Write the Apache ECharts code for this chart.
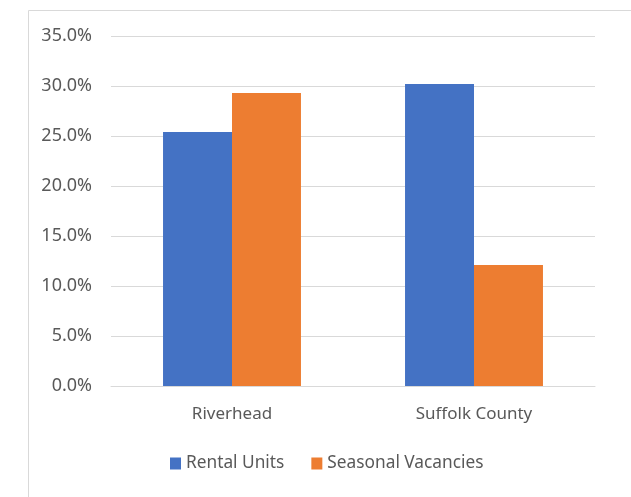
<!DOCTYPE html>
<html><head><meta charset="utf-8">
<script src="https://cdn.jsdelivr.net/npm/echarts@6/dist/echarts.min.js"></script>
<style>html,body{margin:0;padding:0;background:#fff}#c{width:631px;height:497px}</style>
</head><body><div id="c"></div>
<script>
const categories = ["Riverhead", "Suffolk County"];
const rentalUnits = [25.4, 30.2];
const seasonalVacancies = [29.3, 12.1];
const seriesNames = ["Rental Units", "Seasonal Vacancies"];

const chart = echarts.init(document.getElementById('c'));
const font = 'Noto Sans';
chart.setOption({
  animation: false,
  graphic: [{type:'rect', shape:{x:28.5,y:10.5,width:610,height:500}, style:{fill:'none',stroke:'#d9d9d9',lineWidth:1}, silent:true}],
  grid: {left: 111, right: 36, top: 36, bottom: 111, containLabel: false},
  legend: {
    data: seriesNames, bottom: 20, left: 165, itemWidth: 11, itemHeight: 12, itemGap: 27,
    icon: 'rect',
    textStyle: {fontFamily: font, fontSize: 17.3, color: '#595959'}
  },
  xAxis: {
    type: 'category', data: categories,
    axisLine: {lineStyle: {color: '#d9d9d9'}}, axisTick: {show: false},
    axisLabel: {fontFamily: font, fontSize: 17, color: '#595959', margin: 20}
  },
  yAxis: {
    type: 'value', min: 0, max: 35, interval: 5,
    axisLabel: {formatter: v => v.toFixed(1) + '%', fontFamily: font, fontSize: 18, color: '#595959', margin: 19},
    splitLine: {lineStyle: {color: '#d9d9d9'}}, axisLine: {show: false}, axisTick: {show: false}
  },
  series: [
    {name: seriesNames[0], type: 'bar', data: rentalUnits, barGap: '0%', barCategoryGap: '43%', itemStyle: {color: '#4472c4'}},
    {name: seriesNames[1], type: 'bar', data: seasonalVacancies, itemStyle: {color: '#ed7d31'}}
  ]
});
</script></body></html>
